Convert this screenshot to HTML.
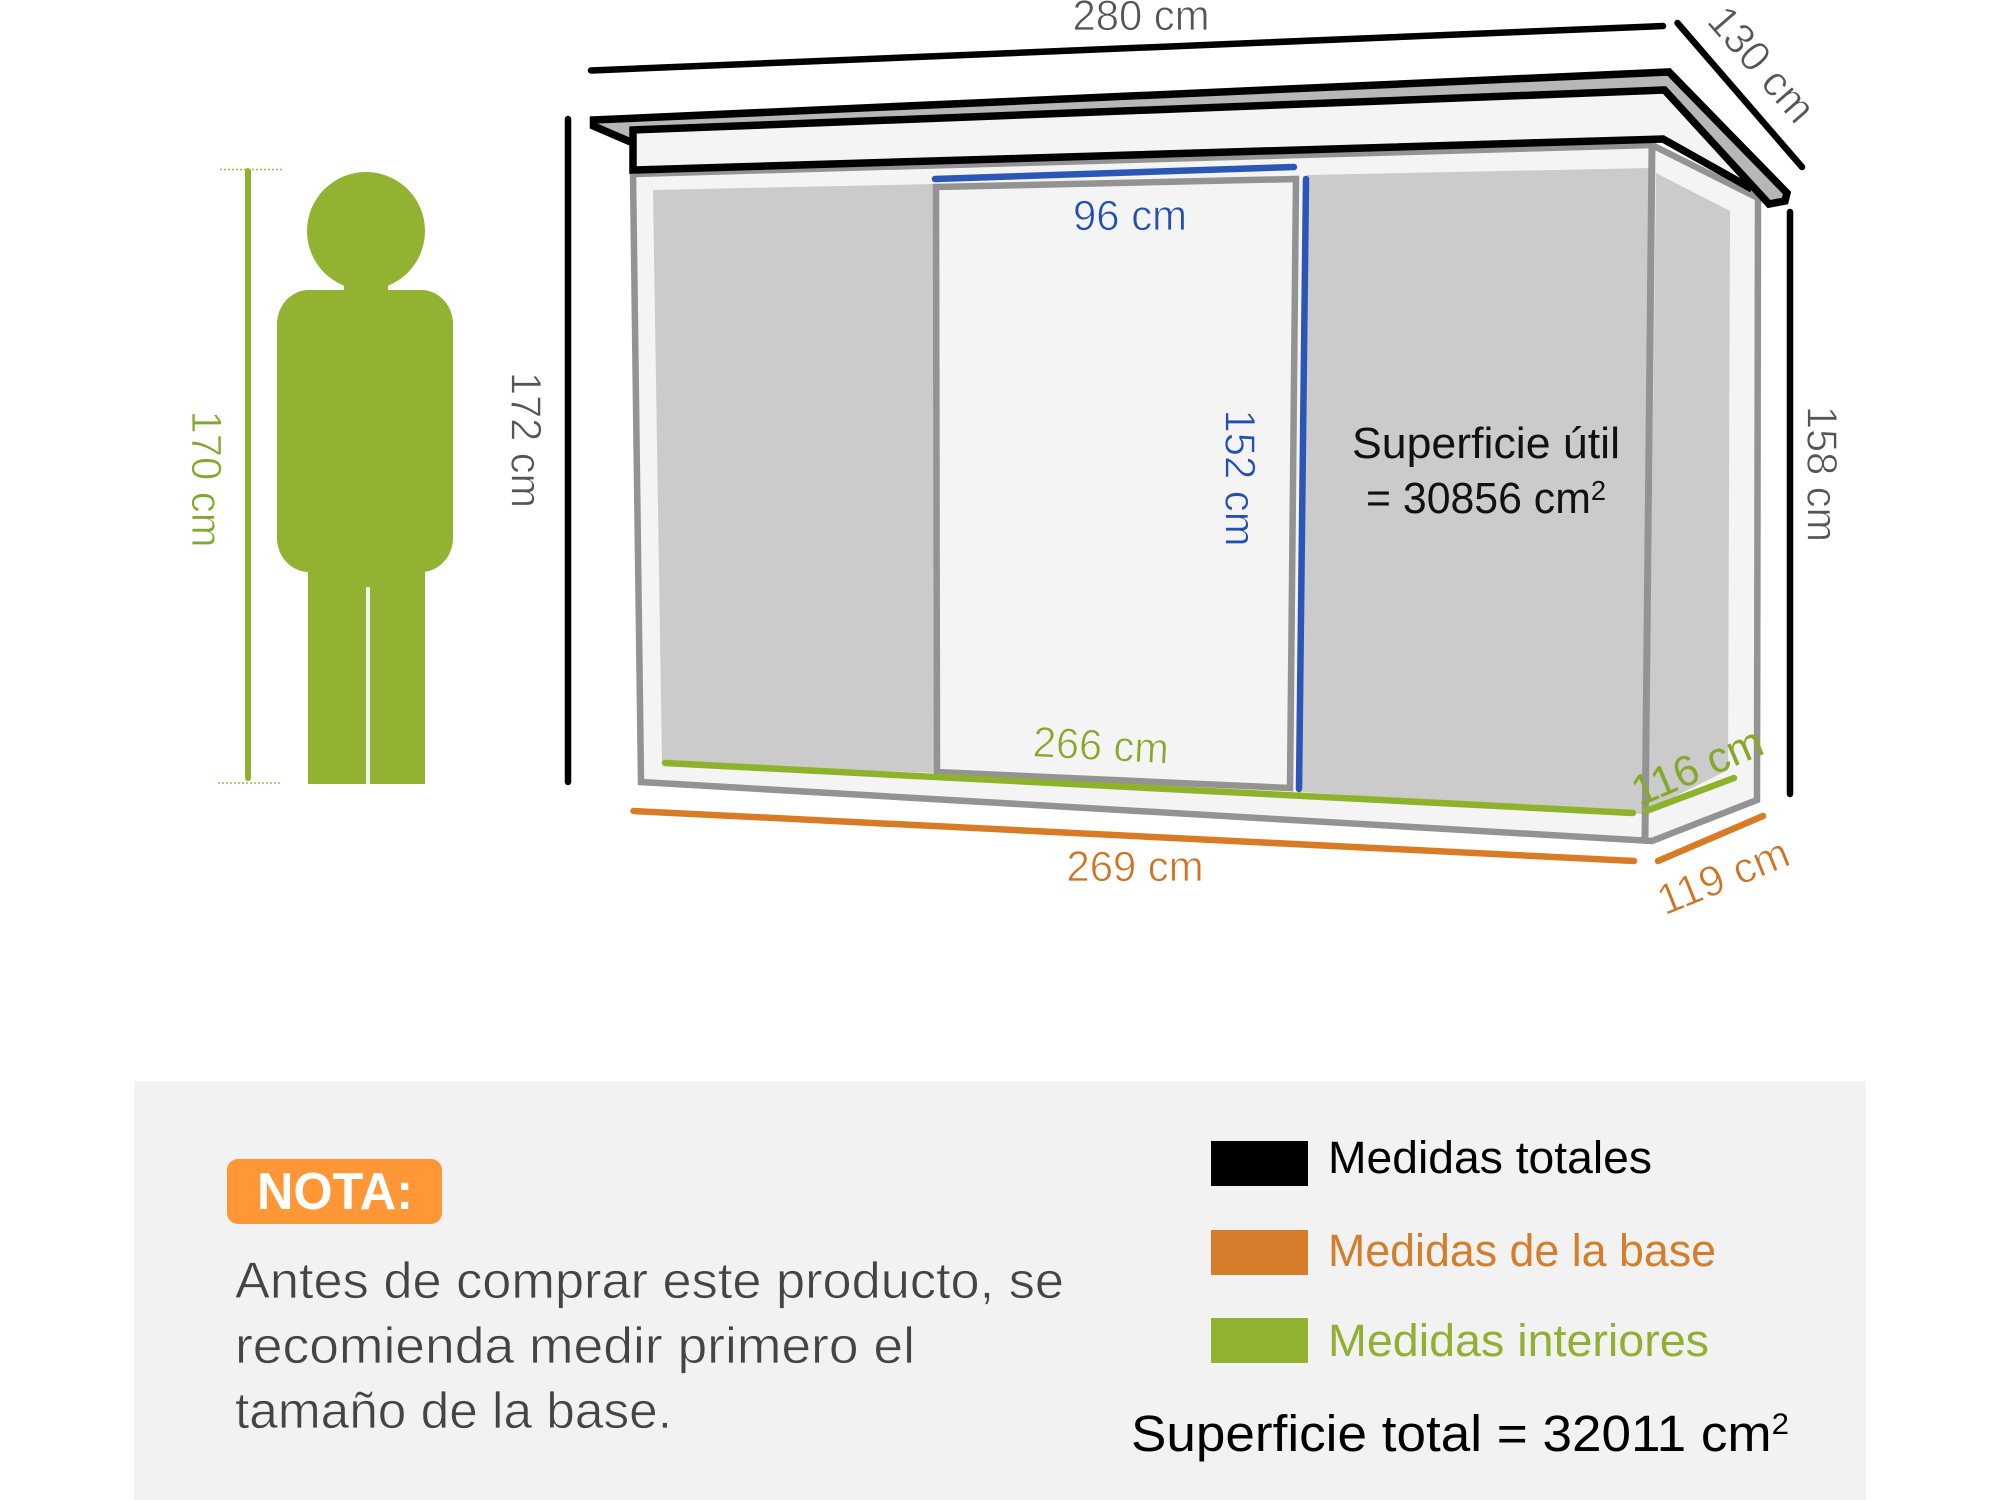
<!DOCTYPE html>
<html><head><meta charset="utf-8"><style>
html,body{margin:0;padding:0;background:#fff}
svg{display:block}
text{font-family:"Liberation Sans","DejaVu Sans",sans-serif}
.l{font-size:43px;stroke-width:.8}
</style></head><body>
<svg width="2000" height="1500" viewBox="0 0 2000 1500" xmlns="http://www.w3.org/2000/svg">
<rect width="2000" height="1500" fill="#fff"/>
<!-- person -->
<g fill="#92b231">
<circle cx="366" cy="231" r="59"/>
<rect x="344" y="275" width="44" height="20"/>
<rect x="277" y="290" width="176" height="282" rx="32" ry="34"/>
<rect x="308" y="558" width="117" height="226"/>
</g>
<rect x="366" y="587" width="4" height="197" fill="#f4f4f4"/>
<line x1="248" y1="171" x2="248" y2="778" stroke="#8fb02f" stroke-width="6" stroke-linecap="round"/>
<line x1="220" y1="169.5" x2="282" y2="169.5" stroke="#9cba4a" stroke-width="1.5" stroke-dasharray="2 2"/>
<line x1="218" y1="783" x2="280" y2="783" stroke="#9cba4a" stroke-width="1.5" stroke-dasharray="2 2"/>
<!-- walls -->
<polygon points="633,173 1652,145 1758,198 1757,800 1652,841 641,782" fill="#f4f4f4"/>
<polygon points="653,190 934,184 934,773 662,762" fill="#cbcbcb"/>
<polygon points="1307,175 1650,168 1642,814 1302,792" fill="#cbcbcb"/>
<polygon points="1656,173 1730,211 1728,770 1648,810" fill="#cbcbcb"/>
<g fill="none" stroke="#939393" stroke-width="6.5" stroke-linejoin="miter">
<polygon points="633,174 1652,145 1758,198 1757,800 1652,841 641,782"/>
<line x1="1652" y1="145" x2="1645" y2="838" stroke-width="7"/>
<polygon points="936,187 1296,179 1290,788 937,772" fill="#f4f4f4"/>
</g>
<!-- roof -->
<polygon points="593,120 1669,72 1786,193 1786,200 1769,204 1664,90 631,130 631,143 593,128" fill="#b7b7b7"/>
<polygon points="631,130 1664,90 1755,187 1743,180 1663,139 631,170" fill="#f4f4f4"/>
<g fill="none" stroke="#000" stroke-width="7.5" stroke-linejoin="miter">
<polyline points="633,143 593.5,126 593.5,120 1669,72 1787,193 1785,201 1769,204 1664.5,90 633,130 633,170 1663,139 1752,189"/>
</g>
<!-- dimension lines -->
<g fill="none" stroke-linecap="round">
<g stroke="#000" stroke-width="6.5">
<line x1="591" y1="70.5" x2="1663" y2="26"/>
<line x1="1677.5" y1="23" x2="1802" y2="167"/>
<line x1="568" y1="119" x2="568" y2="782"/>
<line x1="1790" y1="212" x2="1790" y2="794"/>
</g>
<g stroke="#2b56b8" stroke-width="6.5">
<line x1="935" y1="179" x2="1294" y2="167"/>
<line x1="1306" y1="179" x2="1299" y2="789"/>
</g>
<g stroke="#8cb32a" stroke-width="6.5">
<line x1="665" y1="763" x2="1633" y2="813"/>
<line x1="1646" y1="811" x2="1734" y2="778"/>
</g>
<g stroke="#d97b24" stroke-width="6.5">
<line x1="633.5" y1="811" x2="1634" y2="861"/>
<line x1="1658" y1="861" x2="1763" y2="816"/>
</g>
</g>
<!-- labels -->
<g class="l">
<text x="1141" y="30" text-anchor="middle" fill="#555" stroke="#fff" textLength="137" lengthAdjust="spacingAndGlyphs">280 cm</text>
<text transform="translate(1762,64) rotate(49)" y="15" text-anchor="middle" fill="#555" stroke="#fff" textLength="138" lengthAdjust="spacingAndGlyphs">130 cm</text>
<text transform="translate(526.5,440) rotate(90)" y="15" text-anchor="middle" fill="#555" stroke="#fff" textLength="136" lengthAdjust="spacingAndGlyphs">172 cm</text>
<text transform="translate(1822.5,474) rotate(90)" y="15" text-anchor="middle" fill="#555" stroke="#fff" textLength="136" lengthAdjust="spacingAndGlyphs">158 cm</text>
<text transform="translate(207,479) rotate(90)" y="15" text-anchor="middle" fill="#7fa82c" stroke="#fff" textLength="137" lengthAdjust="spacingAndGlyphs">170 cm</text>
<text x="1130" y="230" text-anchor="middle" fill="#2350b0" stroke="#f4f4f4" textLength="114" lengthAdjust="spacingAndGlyphs">96 cm</text>
<text transform="translate(1240.5,478) rotate(90)" y="15" text-anchor="middle" fill="#2350b0" stroke="#f4f4f4" textLength="137" lengthAdjust="spacingAndGlyphs">152 cm</text>
<text transform="translate(1101,745) rotate(3)" y="15" text-anchor="middle" fill="#84a92b" stroke="#f4f4f4" textLength="136" lengthAdjust="spacingAndGlyphs">266 cm</text>
<text x="1135" y="881" text-anchor="middle" fill="#d2711f" stroke="#fff" textLength="137" lengthAdjust="spacingAndGlyphs">269 cm</text>
<text transform="translate(1697,766) rotate(-23)" y="15" text-anchor="middle" fill="#84a92b" textLength="138" lengthAdjust="spacingAndGlyphs">116 cm</text>
<text transform="translate(1723,876) rotate(-22)" y="15" text-anchor="middle" fill="#d2711f" stroke="#fff" textLength="138" lengthAdjust="spacingAndGlyphs">119 cm</text>
</g>
<text x="1352" y="458" font-size="44" fill="#111" textLength="268" lengthAdjust="spacingAndGlyphs">Superficie útil</text>
<text x="1366" y="513" font-size="44" fill="#111" textLength="240" lengthAdjust="spacingAndGlyphs">= 30856 cm<tspan font-size="28" dy="-13">2</tspan></text>
<!-- panel -->
<rect x="134" y="1081" width="1732" height="419" fill="#f2f2f2"/>
<rect x="227" y="1159" width="215" height="65" rx="11" fill="#ff9737"/>
<text x="257" y="1209" font-size="52" font-weight="bold" fill="#fff" textLength="156" lengthAdjust="spacingAndGlyphs">NOTA:</text>
<g font-size="51" fill="#444" stroke="#f2f2f2" stroke-width=".7">
<text x="235" y="1298" textLength="829" lengthAdjust="spacingAndGlyphs">Antes de comprar este producto, se</text>
<text x="235" y="1363" textLength="680" lengthAdjust="spacingAndGlyphs">recomienda medir primero el</text>
<text x="235" y="1428" textLength="437" lengthAdjust="spacingAndGlyphs">tamaño de la base.</text>
</g>
<rect x="1211" y="1141" width="97" height="45" fill="#000"/>
<rect x="1211" y="1230" width="97" height="45" fill="#d57d2b"/>
<rect x="1211" y="1318" width="97" height="45" fill="#92b231"/>
<g font-size="45">
<text x="1328" y="1173" fill="#000" textLength="324" lengthAdjust="spacingAndGlyphs">Medidas totales</text>
<text x="1328" y="1266" fill="#d57d2b" textLength="388" lengthAdjust="spacingAndGlyphs">Medidas de la base</text>
<text x="1328" y="1356" fill="#8fb030" textLength="381" lengthAdjust="spacingAndGlyphs">Medidas interiores</text>
</g>
<text x="1131" y="1451" font-size="51" fill="#000" textLength="658" lengthAdjust="spacingAndGlyphs">Superficie total = 32011 cm<tspan font-size="30" dy="-17">2</tspan></text>
</svg>
</body></html>
